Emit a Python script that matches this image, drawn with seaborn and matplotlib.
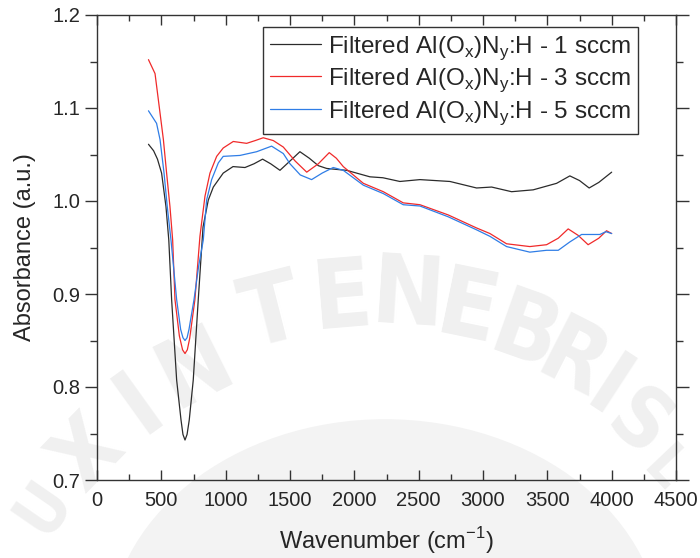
import numpy as np
import pandas as pd
import matplotlib
matplotlib.use('Agg')
import matplotlib.pyplot as plt
from matplotlib.patches import Circle
import seaborn as sns

# wavenumber (cm-1) / absorbance
WN_1 = [400, 440, 470, 502, 536, 558, 580, 619, 653, 668, 684, 700, 717, 748, 787, 824, 865,
        904, 981, 1057, 1150, 1220, 1287, 1350, 1422, 1500, 1577, 1650, 1720, 1785, 1860, 1940,
        2121, 2222, 2354, 2510, 2743, 2950, 3067, 3222, 3390, 3572, 3675, 3750, 3825, 3900, 4000]
AB_1 = [1.061, 1.054, 1.045, 1.030, 0.994, 0.958, 0.894, 0.8075, 0.7645, 0.749, 0.743, 0.749,
        0.7645, 0.8075, 0.894, 0.972, 1.001, 1.015, 1.030, 1.037, 1.036, 1.040, 1.045, 1.040,
        1.033, 1.043, 1.053, 1.046, 1.038, 1.035, 1.034, 1.033, 1.026, 1.025, 1.021, 1.023,
        1.021, 1.014, 1.015, 1.010, 1.012, 1.019, 1.027, 1.022, 1.014, 1.020, 1.031]

WN_3 = [400, 451, 484, 516, 541, 567, 588, 606, 640, 665, 684, 702, 720, 761, 800, 839, 878,
        930, 981, 1059, 1163, 1230, 1292, 1370, 1448, 1540, 1630, 1720, 1805, 1860, 1914, 2070,
        2225, 2380, 2510, 2730, 2950, 3054, 3183, 3364, 3494, 3585, 3662, 3740, 3817, 3900,
        3960, 4000]
AB_3 = [1.152, 1.137, 1.101, 1.066, 1.030, 0.994, 0.958, 0.894, 0.855, 0.840, 0.836, 0.840,
        0.852, 0.894, 0.962, 1.005, 1.030, 1.048, 1.057, 1.064, 1.062, 1.065, 1.068, 1.065,
        1.058, 1.043, 1.031, 1.040, 1.052, 1.046, 1.037, 1.019, 1.010, 0.998, 0.996, 0.985,
        0.971, 0.965, 0.954, 0.951, 0.953, 0.960, 0.970, 0.963, 0.953, 0.960, 0.968, 0.965]

WN_5 = [400, 463, 490, 521, 546, 575, 619, 650, 668, 684, 700, 715, 754, 790, 826, 852, 891,
        943, 981, 1111, 1241, 1357, 1448, 1500, 1580, 1668, 1750, 1836, 1914, 2070, 2225, 2380,
        2510, 2730, 2950, 3054, 3183, 3364, 3494, 3585, 3675, 3766, 3908, 3955, 4000]
AB_5 = [1.097, 1.0835, 1.066, 1.030, 0.994, 0.958, 0.894, 0.862, 0.853, 0.850, 0.853, 0.862,
        0.894, 0.930, 0.958, 1.001, 1.023, 1.041, 1.048, 1.049, 1.053, 1.059, 1.051, 1.040,
        1.028, 1.023, 1.030, 1.036, 1.033, 1.017, 1.008, 0.996, 0.9946, 0.983, 0.969, 0.962,
        0.951, 0.945, 0.947, 0.947, 0.956, 0.964, 0.964, 0.967, 0.965]

LABELS = [r'Filtered Al(O$_\mathregular{x}$)N$_\mathregular{y}$:H - 1 sccm',
          r'Filtered Al(O$_\mathregular{x}$)N$_\mathregular{y}$:H - 3 sccm',
          r'Filtered Al(O$_\mathregular{x}$)N$_\mathregular{y}$:H - 5 sccm']
COLORS = ['#2b2b2b', '#f02a2a', '#2f7de6']

# faint repository watermark: letter, centre x px, centre y px (from top), size
WATERMARK = [('U', 44, 508, 48), ('X', 88, 455, 64), ('I', 140, 405, 68), ('N', 195, 370, 68),
             ('T', 272, 315, 70), ('E', 343, 300, 70), ('N', 408, 298, 70), ('E', 468, 312, 70),
             ('B', 524, 335, 68), ('R', 572, 363, 66), ('I', 607, 392, 64), ('S', 638, 425, 60),
             ('L', 664, 470, 42)]

df = pd.concat([
    pd.DataFrame({'wn': WN_1, 'ab': AB_1, 'sample': LABELS[0]}),
    pd.DataFrame({'wn': WN_3, 'ab': AB_3, 'sample': LABELS[1]}),
    pd.DataFrame({'wn': WN_5, 'ab': AB_5, 'sample': LABELS[2]}),
])

sns.set_style('white')
plt.rcParams['font.family'] = ['Liberation Sans', 'DejaVu Sans']
plt.rcParams['mathtext.fontset'] = 'custom'
plt.rcParams['mathtext.rm'] = 'Liberation Sans'

W, H = 700, 558
fig = plt.figure(figsize=(7, 5.58), dpi=100)

# watermark behind everything
cx, cy = 380, 740
for ch, x, y, fs in WATERMARK:
    rot = np.degrees(np.arctan2(-(x - cx), (cy - y)))
    fig.text(x / W, 1 - y / H, ch, fontsize=fs, fontweight='bold', color='#f0f0f0',
             rotation=rot, ha='center', va='center', rotation_mode='anchor',
             family='DejaVu Sans', fontstretch='condensed', zorder=-5)
fig.patches.append(Circle((385 / W, 1 - 640 / H), 277 / W, transform=fig.transFigure,
                          facecolor='#f3f3f3', edgecolor='none', zorder=-6))

ax = fig.add_axes([97/W, 1-480/H, 579/W, 465/H])
ax.set_facecolor('none')

sns.lineplot(data=df, x='wn', y='ab', hue='sample', palette=COLORS, sort=False,
             estimator=None, linewidth=0.9, ax=ax)

ax.set_xlim(0, 4500)
ax.set_ylim(0.7, 1.2)
ax.set_xticks(np.arange(0, 4501, 500))
ax.set_xticks(np.arange(250, 4500, 500), minor=True)
ax.set_yticks([0.7, 0.8, 0.9, 1.0, 1.1, 1.2])
ax.set_yticks([0.75, 0.85, 0.95, 1.05, 1.15], minor=True)
ax.set_yticklabels(['0.7', '0.8', '0.9', '1.0', '1.1', '1.2'])

ax.tick_params(axis='x', which='both', direction='in', top=True, bottom=True,
               labelsize=14.5, color='#333333', pad=8)
ax.tick_params(axis='x', which='major', length=7, width=1)
ax.tick_params(axis='x', which='minor', length=4, width=1)
ax.tick_params(axis='y', which='both', direction='out', left=True, right=True,
               labelsize=14.5, color='#333333', pad=3)
ax.tick_params(axis='y', which='major', length=9, width=1)
ax.tick_params(axis='y', which='minor', length=5, width=1)

for s in ax.spines.values():
    s.set_visible(True)
    s.set_color('#333333')
    s.set_linewidth(1.0)

ax.set_xlabel(r'Wavenumber (cm$^{\mathregular{-1}}$)', fontsize=17, labelpad=11)
ax.set_ylabel('Absorbance (a.u.)', fontsize=17, labelpad=12)

leg = ax.legend(loc='upper right', bbox_to_anchor=(0.934, 0.974), borderaxespad=0,
                fontsize=17.5, frameon=True, fancybox=False, handlelength=2.1,
                handletextpad=0.3, labelspacing=0.2, borderpad=0.28)
leg.get_frame().set_edgecolor('#333333')
leg.get_frame().set_linewidth(1.0)
leg.get_frame().set_facecolor('white')
leg.get_frame().set_alpha(1)

fig.savefig('out.png', dpi=100)
